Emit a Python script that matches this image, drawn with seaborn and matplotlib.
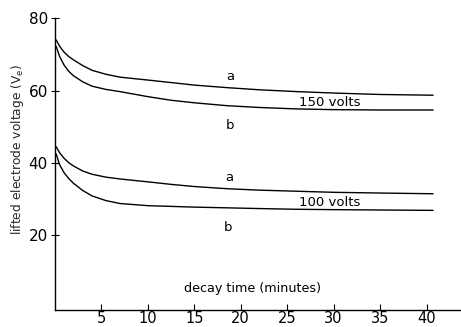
import matplotlib
matplotlib.use("Agg")
import matplotlib.pyplot as plt
import seaborn as sns
import pandas as pd

# Decay time (minutes) at which each curve was read
decay_time = [0.15, 0.5, 1, 1.5, 2, 3, 4, 5.5, 7, 10, 12.5, 15, 18.5, 22, 26, 30, 35, 40.7]

# Lifted electrode voltage for the 150 V and 100 V runs, curves a and b
v150_a = [74.0, 72.3, 70.6, 69.4, 68.5, 66.9, 65.6, 64.5, 63.7, 62.9, 62.2, 61.5, 60.8, 60.2, 59.7, 59.3, 58.9, 58.7]
v150_b = [72.2, 69.5, 67.0, 65.3, 64.1, 62.4, 61.2, 60.3, 59.7, 58.3, 57.3, 56.6, 55.8, 55.3, 54.9, 54.7, 54.6, 54.6]
v100_a = [44.4, 42.8, 41.2, 40.0, 39.1, 37.7, 36.8, 36.0, 35.5, 34.7, 34.0, 33.4, 32.8, 32.4, 32.1, 31.8, 31.6, 31.4]
v100_b = [42.4, 39.5, 37.2, 35.6, 34.3, 32.3, 30.8, 29.5, 28.7, 28.1, 27.9, 27.7, 27.5, 27.3, 27.1, 27.0, 26.9, 26.8]

series = {"150a": v150_a, "150b": v150_b, "100a": v100_a, "100b": v100_b}

x_ticks = [5, 10, 15, 20, 25, 30, 35, 40]
y_ticks = [20, 40, 60, 80]

frames = [pd.DataFrame({"t": decay_time, "v": vals, "curve": name}) for name, vals in series.items()]
df = pd.concat(frames, ignore_index=True)

sns.set_style("ticks")
plt.rcParams["font.family"] = ["DejaVu Sans"]

fig = plt.figure(figsize=(4.61, 3.27), dpi=100)
ax = fig.add_axes([0.119, 0.052, 0.879, 0.892])

sns.lineplot(data=df, x="t", y="v", units="curve", estimator=None,
             color="black", linewidth=1.0, ax=ax, legend=False)

ax.set_xlim(0, 43.6)
ax.set_ylim(-0.8, 80)
ax.set_xticks(x_ticks)
ax.set_xticklabels([str(v) for v in x_ticks])
ax.set_yticks(y_ticks)
ax.set_yticklabels([str(v) for v in y_ticks])
ax.tick_params(axis="x", direction="in", length=4, width=0.8, pad=1, labelsize=10.5, colors="black")
ax.tick_params(axis="y", direction="inout", length=6, width=0.8, pad=2, labelsize=11, colors="black")
sns.despine(ax=ax)
for side in ("left", "bottom"):
    ax.spines[side].set_linewidth(1.0)
    ax.spines[side].set_color("black")

ax.set_xlabel("")
ax.set_ylabel("lifted electrode voltage (V$_\\mathregular{e}$)", fontsize=8.8)
ax.yaxis.set_label_coords(-0.072, 0.55)

txt = dict(ha="center", va="center", fontsize=9.5, color="black")
ax.text(18.9, 63.8, "a", **txt)
ax.text(29.6, 56.7, "150 volts", **txt)
ax.text(18.8, 50.3, "b", **txt)
ax.text(18.8, 36.0, "a", **txt)
ax.text(29.6, 29.0, "100 volts", **txt)
ax.text(18.6, 22.0, "b", **txt)
ax.text(21.3, 5.2, "decay time (minutes)", ha="center", va="center", fontsize=9.2, color="black")

fig.savefig("out.png", dpi=100)
